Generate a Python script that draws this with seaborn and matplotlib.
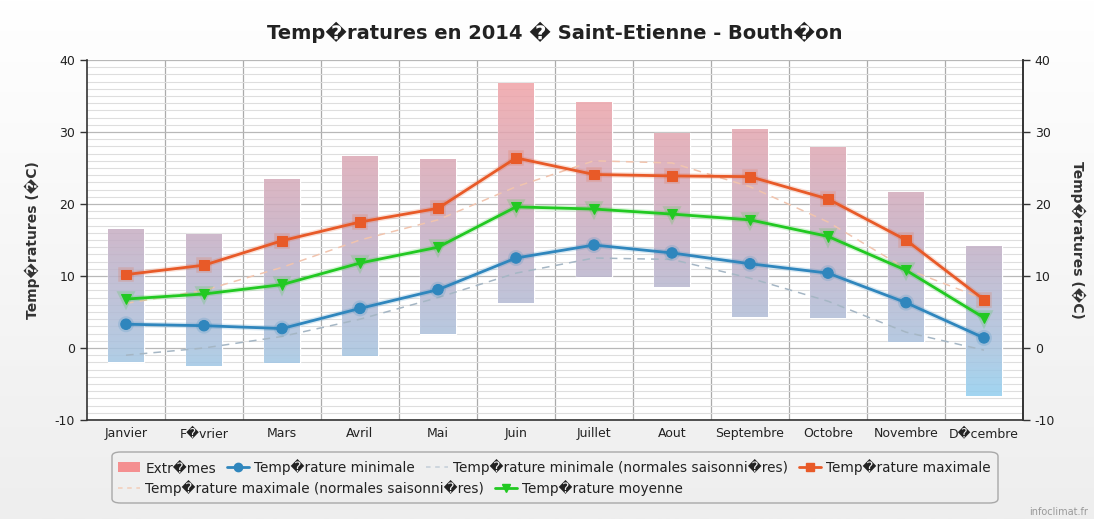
import numpy as np
import pandas as pd
import seaborn as sns
import matplotlib.pyplot as plt
import matplotlib.patheffects as pe
from matplotlib.colors import LinearSegmentedColormap
from matplotlib.lines import Line2D
from matplotlib.patches import Patch, FancyBboxPatch

months = ['Janvier', 'F\ufffdvrier', 'Mars', 'Avril', 'Mai', 'Juin', 'Juillet', 'Aout',
          'Septembre', 'Octobre', 'Novembre', 'D\ufffdcembre']
ext_low = [-1.9, -2.5, -2.1, -1.1, 1.9, 6.2, 9.9, 8.5, 4.3, 4.1, 0.9, -6.7]
ext_high = [16.5, 15.8, 23.5, 26.7, 26.3, 36.8, 34.2, 29.9, 30.4, 27.9, 21.7, 14.1]
t_min = [3.3, 3.1, 2.7, 5.5, 8.1, 12.5, 14.3, 13.2, 11.7, 10.4, 6.3, 1.4]
t_max = [10.2, 11.5, 14.9, 17.5, 19.4, 26.4, 24.1, 23.9, 23.8, 20.7, 15.0, 6.7]
t_moy = [6.8, 7.5, 8.8, 11.8, 14.0, 19.6, 19.3, 18.6, 17.8, 15.5, 10.8, 4.2]
norm_min = [-1.0, 0.0, 1.6, 4.0, 7.0, 10.4, 12.5, 12.3, 9.7, 6.5, 2.2, -0.3]
norm_max = [6.2, 8.0, 11.2, 15.0, 17.8, 22.4, 26.0, 25.7, 22.4, 17.5, 11.0, 6.8]

title = 'Temp\ufffdratures en 2014 \ufffd Saint-Etienne - Bouth\ufffdon'
ylabel = 'Temp\ufffdratures (\ufffdC)'
legend_labels = ['Extr\ufffdmes', 'Temp\ufffdrature minimale',
                 'Temp\ufffdrature minimale (normales saisonni\ufffdres)', 'Temp\ufffdrature maximale',
                 'Temp\ufffdrature maximale (normales saisonni\ufffdres)', 'Temp\ufffdrature moyenne']

df = pd.DataFrame({'mois': months, 'low': ext_low, 'high': ext_high, 'tmin': t_min,
                   'tmax': t_max, 'tmoy': t_moy, 'nmin': norm_min, 'nmax': norm_max})
df['x'] = np.arange(len(df))

sns.set_style('white')
plt.rcParams['font.family'] = ['DejaVu Sans']
plt.rcParams['axes.unicode_minus'] = False

c_min, c_max, c_moy = '#2f86bd', '#e85a28', '#22c922'

fig = plt.figure(figsize=(10.94, 5.19), dpi=100)
# light background gradient (white on top, grey at bottom)
bg = fig.add_axes([0, 0, 1, 1], zorder=-10)
bg.imshow(np.linspace(0, 1, 256).reshape(-1, 1),
          cmap=LinearSegmentedColormap.from_list('bg', ['#ffffff', '#eeeeee']),
          aspect='auto', extent=[0, 1, 0, 1])
bg.axis('off')

ax = fig.add_axes([87 / 1094, 1 - 420 / 519, 936 / 1094, 360 / 519])
ax.set_facecolor('white')

# extremes: bars with a vertical temperature gradient
cmap = LinearSegmentedColormap.from_list(
    'ext', [(0.0, '#86d4f7'), (0.2, '#a8c2de'), (0.5, '#c4aec4'), (1.0, '#f7a0a2')])
bars = ax.bar(df['x'], df['high'] - df['low'], bottom=df['low'], width=0.46,
              color='none', zorder=2)
grad = np.linspace(1, 0, 256).reshape(-1, 1)
for b in bars:
    im = ax.imshow(grad, cmap=cmap, aspect='auto', extent=[-0.5, 11.5, -10, 40],
                   alpha=0.85, zorder=2)
    im.set_clip_path(b)

# seasonal normals
sns.lineplot(data=df, x='x', y='nmin', ax=ax, color='#a5b6c4', lw=1.1,
             linestyle=(0, (5, 4)), zorder=3)
sns.lineplot(data=df, x='x', y='nmax', ax=ax, color='#f1c4ae', lw=1.1,
             linestyle=(0, (5, 4)), zorder=3)

glow = lambda c: [pe.Stroke(linewidth=4, foreground=c, alpha=0.18), pe.Normal()]
sns.lineplot(data=df, x='x', y='tmin', ax=ax, color=c_min, lw=2.0, marker='o', ms=7.5,
             mec=c_min, zorder=5, path_effects=glow(c_min))
sns.lineplot(data=df, x='x', y='tmax', ax=ax, color=c_max, lw=2.0, marker='s', ms=7,
             mec=c_max, zorder=5, path_effects=glow(c_max))
sns.lineplot(data=df, x='x', y='tmoy', ax=ax, color=c_moy, lw=2.0, marker='v', ms=7.5,
             mec=c_moy, zorder=5, path_effects=glow(c_moy))

ax.set_xlim(-0.5, 11.5)
ax.set_ylim(-10, 40)
ax.set_xticks(df['x'])
ax.set_xticklabels(months, fontsize=9, color='#222222')
ax.set_xticks(np.arange(0.5, 11, 1), minor=True)
ax.tick_params(axis='x', which='major', length=0, pad=5)
ax.tick_params(axis='x', which='minor', length=5, width=1, color='#333333', direction='out')
ax.grid(axis='x', which='minor', color='#ababab', lw=0.9)
ax.set_yticks(np.arange(-10, 41, 10))
ax.set_yticks(np.arange(-10, 41, 1), minor=True)
ax.grid(axis='y', which='minor', color='#dedede', lw=0.8)
ax.grid(axis='y', which='major', color='#b8b8b8', lw=0.9)
ax.tick_params(axis='y', which='major', length=5, width=1, color='#333333',
               direction='out', labelsize=9, labelcolor='#222222', left=True)
ax.tick_params(axis='y', which='minor', length=0)
ax.set_axisbelow(True)
ax.set_xlabel('')
ax.set_ylabel(ylabel, fontsize=10, fontweight='bold', color='#333333', labelpad=11)
ax.spines['top'].set_visible(False)
for s in ['left', 'bottom', 'right']:
    ax.spines[s].set_color('#333333')
    ax.spines[s].set_linewidth(1.2)

ax2 = ax.twinx()
ax2.set_ylim(-10, 40)
ax2.set_yticks(np.arange(-10, 41, 10))
ax2.tick_params(axis='y', length=5, width=1, color='#333333', direction='out',
                labelsize=9, labelcolor='#222222', right=True)
ax2.set_ylabel(ylabel, fontsize=10, fontweight='bold', color='#333333',
               rotation=270, labelpad=22)
for s in ['top', 'left', 'bottom']:
    ax2.spines[s].set_visible(False)
ax2.spines['right'].set_color('#333333')
ax2.spines['right'].set_linewidth(1.2)

ax.set_title(title, fontsize=14, fontweight='bold', color='#222222', pad=15)

# legend: rounded frame with two rows
frame = FancyBboxPatch((112 / 1094, 1 - 503 / 519), 886 / 1094, 51 / 519,
                       boxstyle='round,pad=0,rounding_size=0.008', transform=fig.transFigure,
                       facecolor='none', edgecolor='#a8a8a8', lw=1.0)
fig.patches.append(frame)

h_ext = Patch(facecolor='#f48f90', edgecolor='none')
h_min = Line2D([], [], color=c_min, lw=2, marker='o', ms=6)
h_nmin = Line2D([], [], color='#c3ced8', lw=1.1, linestyle=(0, (3, 3)))
h_max = Line2D([], [], color=c_max, lw=2, marker='s', ms=6)
h_nmax = Line2D([], [], color='#f3cdb8', lw=1.1, linestyle=(0, (3, 3)))
h_moy = Line2D([], [], color=c_moy, lw=2, marker='v', ms=6)

kw = dict(frameon=False, fontsize=9.8, handlelength=1.6, handletextpad=0.4,
          columnspacing=0.8, borderaxespad=0, borderpad=0, loc='center left')
leg1 = fig.legend([h_ext, h_min, h_nmin, h_max], legend_labels[:4], ncol=4,
                  bbox_to_anchor=(118 / 1094, 1 - 467 / 519), **kw)
leg2 = fig.legend([h_nmax, h_moy], legend_labels[4:], ncol=2,
                  bbox_to_anchor=(118 / 1094, 1 - 488 / 519), **kw)
for lg in (leg1, leg2):
    for t in lg.get_texts():
        t.set_color('#222222')

fig.text(1088 / 1094, 1 - 512 / 519, 'infoclimat.fr', ha='right', va='center',
         fontsize=7, color='#999999')

fig.savefig('out.png', dpi=100)
